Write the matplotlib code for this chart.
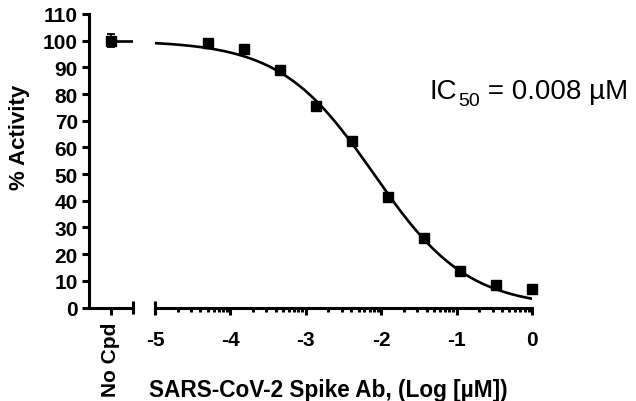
import matplotlib
matplotlib.use("Agg")
import matplotlib.pyplot as plt
import numpy as np
from matplotlib.ticker import FixedLocator, NullFormatter

plt.rcParams["font.family"] = ["Liberation Sans", "DejaVu Sans"]

# three-fold dilution series, log10 [uM]
log_conc = [-4.294, -3.817, -3.340, -2.863, -2.386, -1.908, -1.431, -0.954, -0.477, 0.0]
activity = [99.0, 97.0, 89.0, 75.5, 62.5, 41.5, 26.0, 13.5, 8.5, 7.0]

no_cpd_value = 100.0
no_cpd_err = 2.5

# 4PL fit parameters
fit_top = 100.0
fit_bottom = 0.0
fit_log_ic50 = np.log10(0.008)
fit_hill = 0.70

y_ticks = list(range(0, 111, 10))
x_ticks = [-5, -4, -3, -2, -1, 0]

LW = 2.2
W, H = 636, 402
TICK_FS = 15
LABEL_FS = 16

fig = plt.figure(figsize=(W / 100, H / 100), dpi=100)
y0, y1 = 308.5, 15.0
ax1 = fig.add_axes([89 / W, (H - y0) / H, 44 / W, (y0 - y1) / H])
ax2 = fig.add_axes([155 / W, (H - y0) / H, 377 / W, (y0 - y1) / H])

for ax in (ax1, ax2):
    ax.set_ylim(0, 110)
    ax.spines["top"].set_visible(False)
    ax.spines["right"].set_visible(False)
    ax.spines["left"].set_linewidth(LW)
    ax.spines["bottom"].set_linewidth(LW)
    ax.patch.set_alpha(0)

# No Cpd segment
ax1.set_xlim(0, 1)
ax1.errorbar([0.5], [no_cpd_value], yerr=[no_cpd_err], fmt="s", color="black",
             ms=6.5, capsize=3, elinewidth=1.3, capthick=1.3, clip_on=False, zorder=5)
ax1.plot([0.5, 1.0], [fit_top, fit_top], color="black", lw=1.9)
ax1.set_xticks([0.5])
ax1.set_xticklabels(["No Cpd"], rotation=90, fontsize=15, fontweight="bold")
ax1.set_yticks(y_ticks)
ax1.set_yticklabels([str(v) for v in y_ticks], fontsize=TICK_FS, fontweight="bold")
ax1.tick_params(axis="both", width=LW, length=5, pad=3)
ax1.tick_params(axis="x", pad=5)
ax1.plot([1, 1], [-2.6, 2.6], color="black", lw=LW, clip_on=False, solid_capstyle="butt")

# log concentration segment
ax2.spines["left"].set_visible(False)
ax2.set_xlim(-5, 0)
ax2.set_yticks([])
xs = np.linspace(-5, 0, 300)
curve = fit_bottom + (fit_top - fit_bottom) / (1 + 10 ** ((xs - fit_log_ic50) * fit_hill))
ax2.plot(xs, curve, color="black", lw=1.9)
ax2.plot(log_conc, activity, "s", color="black", ms=6.5, clip_on=False, zorder=5)
ax2.set_xticks(x_ticks)
ax2.set_xticklabels([str(v) for v in x_ticks], fontsize=TICK_FS, fontweight="bold")
minor = [k + np.log10(m) for k in range(-5, 0) for m in range(2, 10)]
ax2.xaxis.set_minor_locator(FixedLocator(minor))
ax2.xaxis.set_minor_formatter(NullFormatter())
ax2.tick_params(axis="x", which="major", width=LW, length=5, pad=11)
ax2.tick_params(axis="x", which="minor", width=LW, length=3)
ax2.plot([-5, -5], [-2.6, 2.6], color="black", lw=LW, clip_on=False, solid_capstyle="butt")

fig.text(20 / W, 1 - 137 / H, "% Activity", rotation=90, fontsize=LABEL_FS, fontweight="bold",
         ha="center", va="center")
fig.text(328 / W, 1 - 391 / H, "SARS-CoV-2 Spike Ab, (Log [\u00b5M])", fontsize=16.3,
         fontweight="bold", ha="center", va="center")

# IC50 annotation with a hand-set subscript
base_y = H - 99.5
t_ic = fig.text(430 / W, base_y / H, "IC", fontsize=20, ha="left", va="baseline")
fig.canvas.draw()
r = fig.canvas.get_renderer()
bb = t_ic.get_window_extent(r)
t_sub = fig.text((bb.x1 + 1) / W, (base_y - 6) / H, "50", fontsize=14, ha="left", va="baseline")
bb2 = t_sub.get_window_extent(r)
fig.text(bb2.x1 / W, base_y / H, " = 0.008 \u00b5M", fontsize=20, ha="left", va="baseline")

fig.savefig("out.png", dpi=100)
